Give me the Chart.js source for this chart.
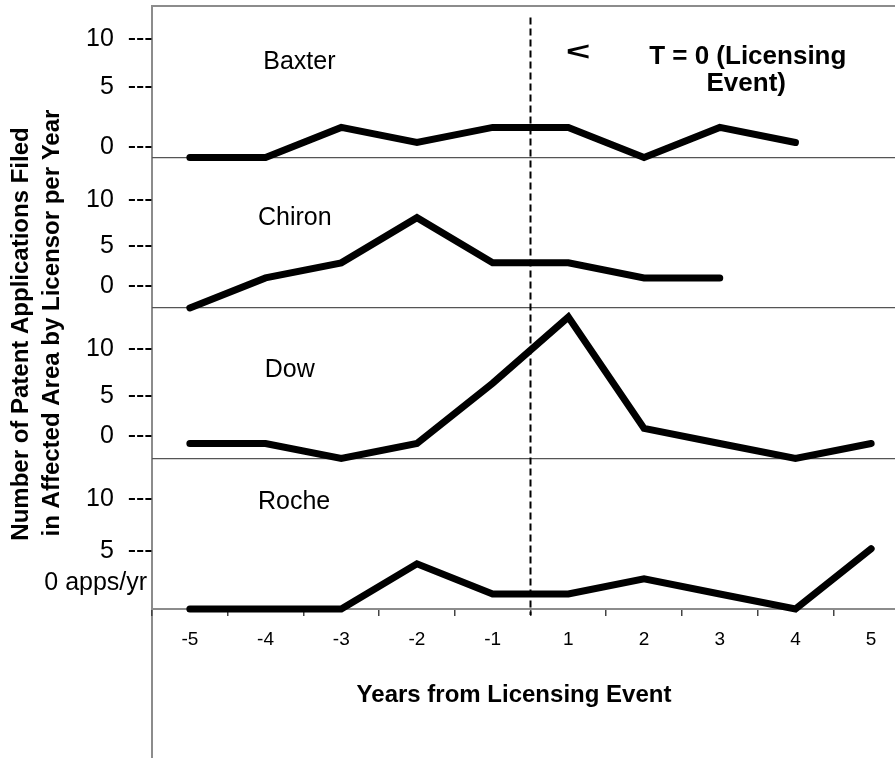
<!DOCTYPE html>
<html>
<head>
<meta charset="utf-8">
<script src="https://cdn.jsdelivr.net/npm/chart.js@4.4.1/dist/chart.umd.min.js"></script>
<style>
  html, body { margin: 0; padding: 0; background: #fff; overflow: hidden; }
  #wrap { position: relative; width: 895px; height: 758px; overflow: hidden; }
  #frame { position: absolute; left: 151px; top: 5px; width: 800px; height: 800px;
           border-left: 2px solid #8c8c8c; border-top: 2px solid #8c8c8c; }
  canvas { position: absolute; left: 0; top: 0; }
</style>
</head>
<body>
<div id="wrap">
  <div id="frame"></div>
  <canvas id="chart" width="909" height="758"></canvas>
</div>
<script>
// Years around the licensing event (there is no year 0)
const years = ['-5', '-4', '-3', '-2', '-1', '1', '2', '3', '4', '5']

// Applications per year, one list per licensor
const baxter = [0, 0, 2, 1, 2, 2, 0, 2, 1, null]
const chiron = [0, 2, 3, 6, 3, 3, 2, 2, null, null]
const dow = [1, 1, 0, 1, 5, 9.4, 2, 1, 0, 1]
const roche = [0, 0, 0, 3, 1, 1, 2, 1, 0, 4]

// Hand-placed scale labels on the left (value on the shared axis, text)
const tick_values = [37.87, 34.7, 30.7, 27.2, 24.1, 21.43, 17.27, 14.15, 11.49, 7.3, 3.87, 1.71]
const tick_labels = ['10  ----', '5  ----', '0  ----',
                     '10  ----', '5  ----', '0  ----',
                     '10  ----', '5  ----', '0  ----',
                     '10  ----', '5  ----', '0 apps/yr  ']

// Each licensor gets its own band of 10 units, stacked top to bottom
const panels = [
    {name: 'Baxter', values: baxter, base: 30},
    {name: 'Chiron', values: chiron, base: 20},
    {name: 'Dow', values: dow, base: 10},
    {name: 'Roche', values: roche, base: 0},
]

const font_family = '"Liberation Sans", Arial, sans-serif'
Chart.defaults.font.family = font_family

// Panel names and the T = 0 note, placed by category index and axis value
const notes = [
    {text: 'Baxter', x: 0.97, y: 36.35, font: '25px', align: 'left'},
    {text: 'Chiron', x: 0.90, y: 25.98, font: '25px', align: 'left'},
    {text: 'Dow', x: 0.99, y: 15.88, font: '25px', align: 'left'},
    {text: 'Roche', x: 0.90, y: 7.11, font: '25px', align: 'left'},
    {text: 'T = 0 (Licensing', x: 7.37, y: 36.68, font: 'bold 26px', align: 'center'},
    {text: 'Event)', x: 7.35, y: 34.88, font: 'bold 26px', align: 'center'},
]

const annotate = {
    id: 'annotate',
    beforeDatasetsDraw(chart) {
        const ctx = chart.ctx, x = chart.scales.x, y = chart.scales.y
        const step = x.getPixelForValue(1) - x.getPixelForValue(0)
        const xt = x.getPixelForValue(0) + 4.5 * step // between -1 and 1
        ctx.save()
        ctx.strokeStyle = '#000'
        ctx.lineWidth = 2
        ctx.setLineDash([7, 4])
        ctx.beginPath()
        ctx.moveTo(xt, y.getPixelForValue(39.3))
        ctx.lineTo(xt, y.getPixelForValue(-0.4))
        ctx.stroke()
        ctx.restore()
    },
    afterDraw(chart) {
        const ctx = chart.ctx, x = chart.scales.x, y = chart.scales.y
        const step = x.getPixelForValue(1) - x.getPixelForValue(0)
        const px = i => x.getPixelForValue(0) + i * step
        ctx.save()
        ctx.fillStyle = '#000'
        ctx.textBaseline = 'middle'
        notes.forEach(n => {
            ctx.font = n.font + ' ' + font_family
            ctx.textAlign = n.align
            ctx.fillText(n.text, px(n.x), y.getPixelForValue(n.y))
        })

        // arrow pointing at the T = 0 line
        ctx.save()
        ctx.translate(px(5.13), y.getPixelForValue(36.94))
        ctx.scale(1.6, 1)
        ctx.font = 'bold 26px ' + font_family
        ctx.textAlign = 'center'
        ctx.fillText('<', 0, 0)
        ctx.restore()

        // axis titles
        ctx.font = 'bold 24px ' + font_family
        ctx.textAlign = 'center'
        ctx.fillText('Years from Licensing Event', 514, 695)

        ctx.textBaseline = 'alphabetic'
        ctx.save()
        ctx.translate(28, 334)
        ctx.rotate(-Math.PI / 2)
        ctx.fillText('Number of Patent Applications Filed', 0, 0)
        ctx.restore()
        ctx.save()
        ctx.translate(59, 323)
        ctx.rotate(-Math.PI / 2)
        ctx.fillText('in Affected Area by Licensor per Year', 0, 0)
        ctx.restore()
        ctx.restore()
    }
}

const config = {
    type: 'line',
    data: {
        labels: years,
        datasets: panels.map(p => ({
            label: p.name,
            data: p.values.map(v => v == null ? null : v + p.base),
            borderColor: '#000',
            borderWidth: 7,
            borderCapStyle: 'round',
            borderJoinStyle: 'miter',
            pointRadius: 0,
            tension: 0,
            clip: false,
            yAxisID: 'y',
        })),
    },
    options: {
        responsive: false,
        animation: false,
        devicePixelRatio: 1,
        layout: {padding: {top: 7, left: 0, right: 0, bottom: 0}},
        plugins: {
            legend: {display: false},
            tooltip: {enabled: false},
        },
        scales: {
            x: {
                type: 'category',
                offset: true,
                grid: {offset: true, drawOnChartArea: false, tickLength: 7, color: '#444', lineWidth: 1.5},
                border: {color: '#8c8c8c', width: 2},
                ticks: {color: '#000', font: {size: 19}, padding: 12, autoSkip: false, maxRotation: 0},
                afterFit: s => { s.height = 149 },
            },
            y: {
                min: 0,
                max: 40,
                position: 'left',
                afterBuildTicks: s => { s.ticks = [10, 20, 30].map(v => ({value: v})) },
                grid: {color: '#555', lineWidth: 1.2, drawTicks: false},
                border: {display: false},
                ticks: {display: false},
                afterFit: s => { s.width = 0 },
            },
            yText: {
                min: 0,
                max: 40,
                position: 'left',
                afterBuildTicks: s => { s.ticks = tick_values.map(v => ({value: v})) },
                grid: {display: false, drawTicks: false},
                border: {display: false},
                ticks: {
                    callback: (v, i) => tick_labels[i],
                    autoSkip: false,
                    padding: -9,
                    color: '#000',
                    font: {size: 25},
                },
                afterFit: s => { s.width = 152 },
            },
        },
    },
    plugins: [annotate],
}

const chart = new Chart(document.getElementById('chart').getContext('2d'), config)
</script>
</body>
</html>
